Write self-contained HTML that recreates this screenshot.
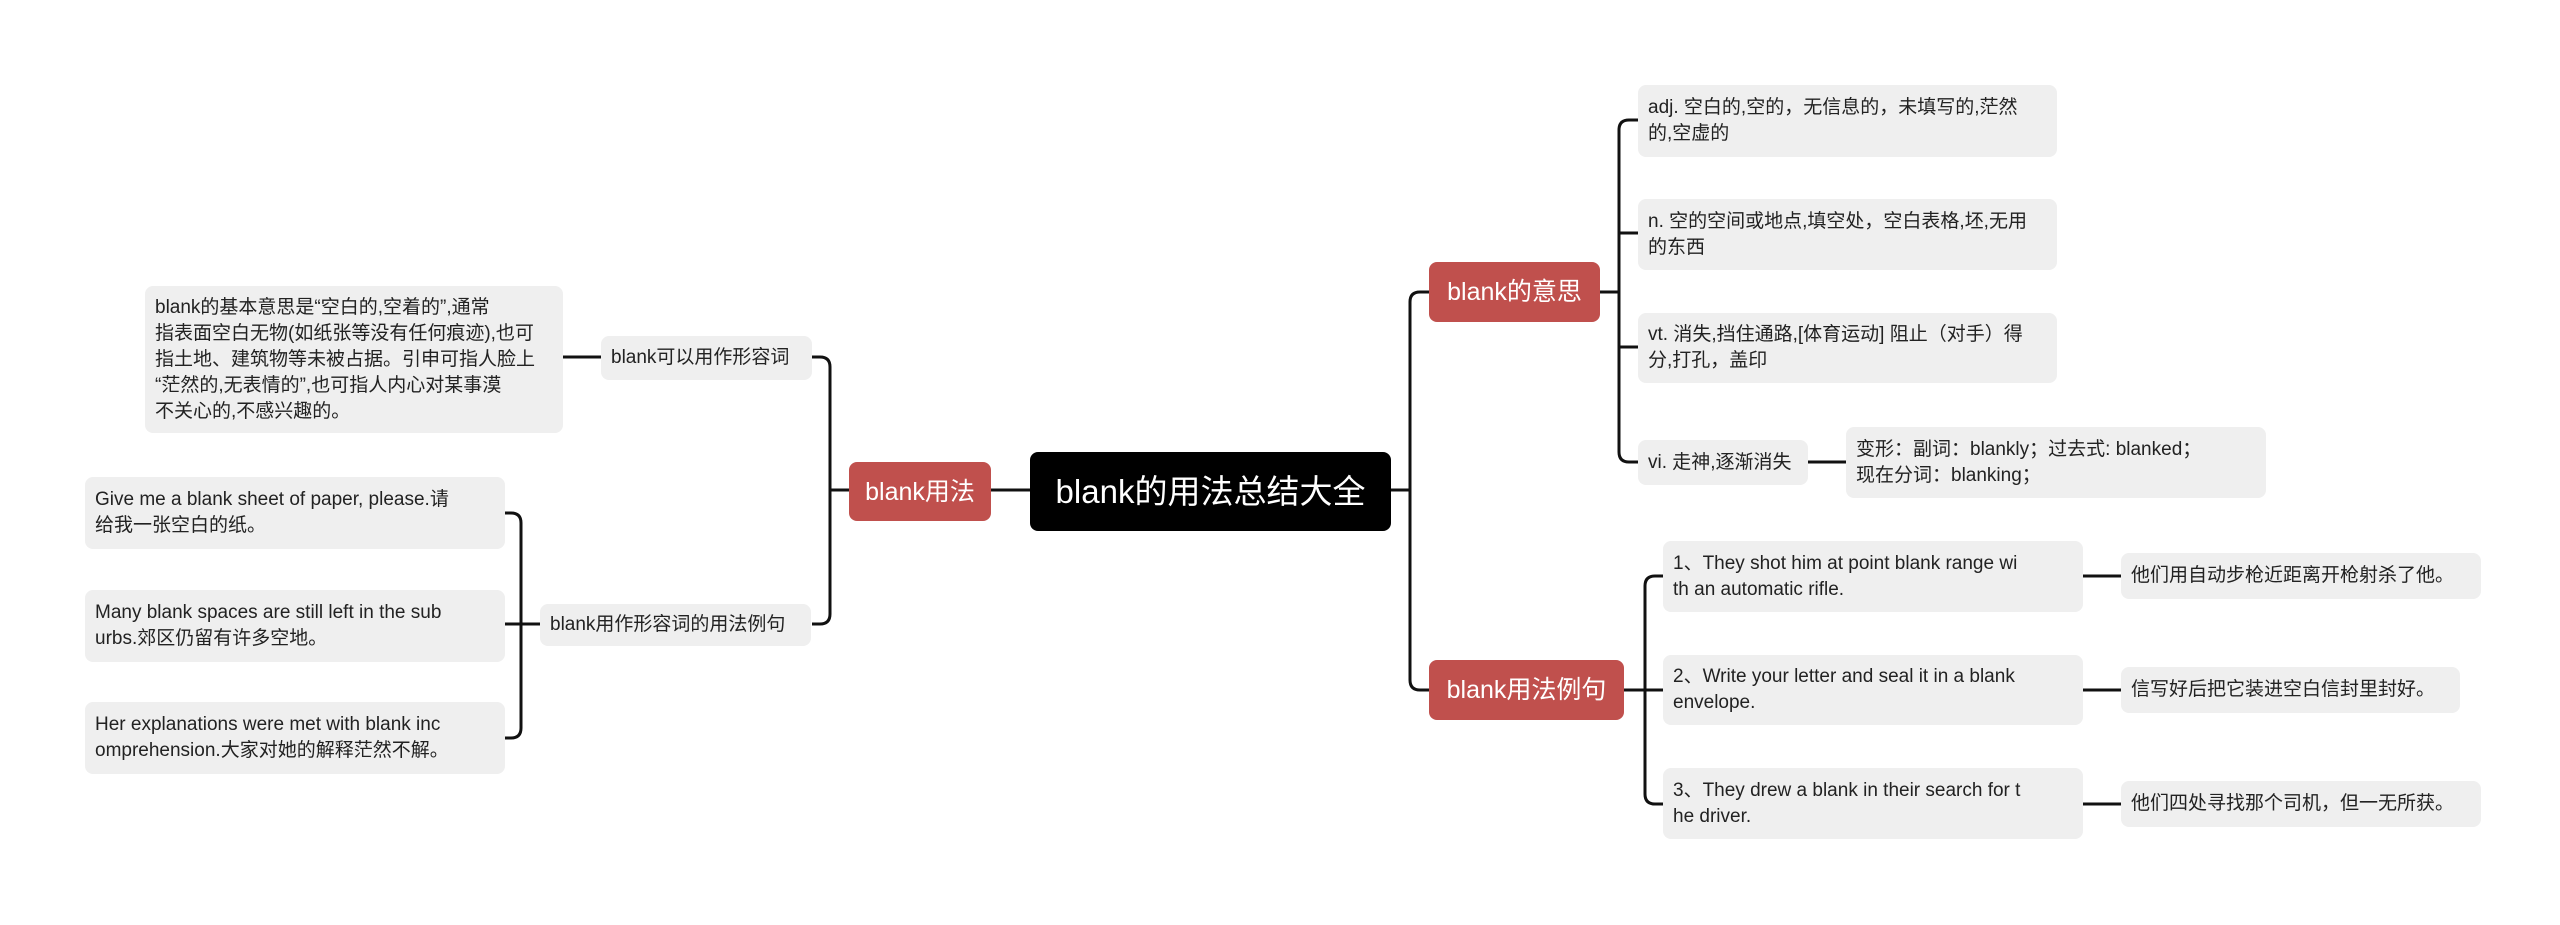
<!DOCTYPE html>
<html><head><meta charset="utf-8"><style>
body{margin:0;width:2560px;height:925px;background:#fff;position:relative;overflow:hidden;font-family:"Liberation Sans","Noto Sans CJK SC",sans-serif;}
.b{position:absolute;box-sizing:border-box;background:#efefef;border-radius:8px;color:#222;font-size:19px;line-height:26px;padding:0 10px;display:flex;align-items:center;white-space:nowrap;}
.r{background:#c0504d;color:#fff;font-size:25px;justify-content:center;padding:0;}
.root{background:#000;color:#fff;font-size:33px;justify-content:center;border-radius:8px;}
svg{position:absolute;left:0;top:0}
</style></head><body>
<svg width="2560" height="925" fill="none" stroke="#111" stroke-width="3">
<path d="M991,490 H1030"/>
<path d="M812,357 H820 Q830,357 830,367 V614 Q830,624 820,624 H812 M830,490 H849"/>
<path d="M563,357 H601"/>
<path d="M505,513 H511 Q521,513 521,523 V728 Q521,738 511,738 H505 M505,624 H540"/>
<path d="M1391,490 H1410 M1429,292 H1420 Q1410,292 1410,302 V680 Q1410,690 1420,690 H1429"/>
<path d="M1600,292 H1619 M1638,120 H1629 Q1619,120 1619,130 V452 Q1619,462 1629,462 H1638 M1619,233 H1638 M1619,347 H1638"/>
<path d="M1808,462 H1846"/>
<path d="M1624,690 H1663 M1663,576 H1655 Q1645,576 1645,586 V794 Q1645,804 1655,804 H1663"/>
<path d="M2083,576 H2121 M2083,690 H2121 M2083,804 H2121"/>
</svg>
<div class="b root" style="left:1030px;top:452px;width:361px;height:79px">blank的用法总结大全</div>
<div class="b r" style="left:849px;top:462px;width:142px;height:59px">blank用法</div>
<div class="b" style="left:601px;top:336px;width:211px;height:44px">blank可以用作形容词</div>
<div class="b" style="left:145px;top:286px;width:418px;height:147px">blank的基本意思是“空白的,空着的”,通常<br>指表面空白无物(如纸张等没有任何痕迹),也可<br>指土地、建筑物等未被占据。引申可指人脸上<br>“茫然的,无表情的”,也可指人内心对某事漠<br>不关心的,不感兴趣的。</div>
<div class="b" style="left:540px;top:604px;width:271px;height:42px">blank用作形容词的用法例句</div>
<div class="b" style="left:85px;top:477px;width:420px;height:72px">Give me a blank sheet of paper, please.请<br>给我一张空白的纸。</div>
<div class="b" style="left:85px;top:590px;width:420px;height:72px">Many blank spaces are still left in the sub<br>urbs.郊区仍留有许多空地。</div>
<div class="b" style="left:85px;top:702px;width:420px;height:72px">Her explanations were met with blank inc<br>omprehension.大家对她的解释茫然不解。</div>
<div class="b r" style="left:1429px;top:262px;width:171px;height:60px">blank的意思</div>
<div class="b" style="left:1638px;top:85px;width:419px;height:72px">adj. 空白的,空的，无信息的，未填写的,茫然<br>的,空虚的</div>
<div class="b" style="left:1638px;top:199px;width:419px;height:71px">n. 空的空间或地点,填空处，空白表格,坯,无用<br>的东西</div>
<div class="b" style="left:1638px;top:313px;width:419px;height:70px">vt. 消失,挡住通路,[体育运动] 阻止（对手）得<br>分,打孔，盖印</div>
<div class="b" style="left:1638px;top:440px;width:170px;height:45px">vi. 走神,逐渐消失</div>
<div class="b" style="left:1846px;top:427px;width:420px;height:71px">变形：副词：blankly；过去式: blanked；<br>现在分词：blanking；</div>
<div class="b r" style="left:1429px;top:660px;width:195px;height:60px">blank用法例句</div>
<div class="b" style="left:1663px;top:541px;width:420px;height:71px">1、They shot him at point blank range wi<br>th an automatic rifle.</div>
<div class="b" style="left:1663px;top:655px;width:420px;height:70px">2、Write your letter and seal it in a blank<br>envelope.</div>
<div class="b" style="left:1663px;top:768px;width:420px;height:71px">3、They drew a blank in their search for t<br>he driver.</div>
<div class="b" style="left:2121px;top:553px;width:360px;height:46px">他们用自动步枪近距离开枪射杀了他。</div>
<div class="b" style="left:2121px;top:667px;width:339px;height:46px">信写好后把它装进空白信封里封好。</div>
<div class="b" style="left:2121px;top:781px;width:360px;height:46px">他们四处寻找那个司机，但一无所获。</div>
</body></html>
